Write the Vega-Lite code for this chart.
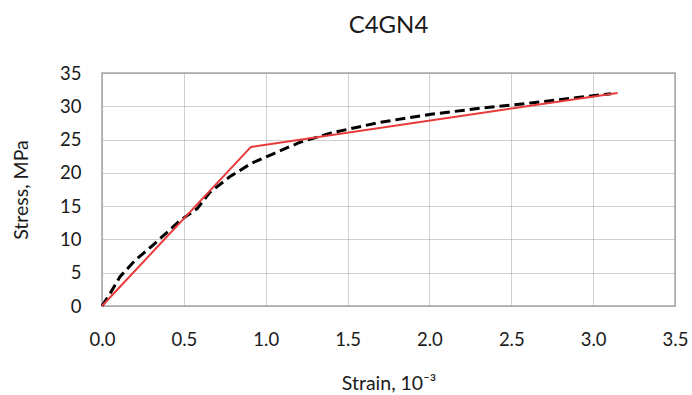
{
  "$schema": "https://vega.github.io/schema/vega-lite/v6.json",
  "width": 573,
  "height": 233,
  "autosize": "none",
  "padding": {"left": 102, "top": 73, "right": 17, "bottom": 89},
  "background": "white",
  "title": {"text": "C4GN4", "font": "Lato", "fontSize": 24, "fontWeight": "normal", "color": "#1a1a1a", "offset": 26, "anchor": "middle"},
  "config": {
    "view": {"stroke": "#a6a6a6", "strokeWidth": 1.5},
    "axis": {
      "labelFont": "Lato", "labelFontSize": 18.5, "labelColor": "#1a1a1a",
      "titleFont": "Lato", "titleFontSize": 19.5, "titleFontWeight": "normal", "titleColor": "#1a1a1a",
      "domain": false, "ticks": false,
      "gridColor": "#a0a0a0", "gridDash": [1, 1], "gridWidth": 1
    }
  },
  "datasets": {
    "measured": [
      {"strain": 0.0, "stress": 0.0},
      {"strain": 0.05, "stress": 1.9},
      {"strain": 0.11, "stress": 4.4},
      {"strain": 0.2, "stress": 6.8},
      {"strain": 0.3, "stress": 8.9},
      {"strain": 0.48, "stress": 12.9},
      {"strain": 0.58, "stress": 14.6},
      {"strain": 0.66, "stress": 17.1},
      {"strain": 0.78, "stress": 19.4},
      {"strain": 0.91, "stress": 21.4},
      {"strain": 1.05, "stress": 22.9},
      {"strain": 1.21, "stress": 24.6},
      {"strain": 1.4, "stress": 26.0},
      {"strain": 1.7, "stress": 27.6},
      {"strain": 2.01, "stress": 28.8},
      {"strain": 2.31, "stress": 29.7},
      {"strain": 2.62, "stress": 30.5},
      {"strain": 2.93, "stress": 31.4},
      {"strain": 3.11, "stress": 31.9}
    ],
    "model": [
      {"strain": 0.0, "stress": 0.0},
      {"strain": 0.91, "stress": 23.9},
      {"strain": 3.15, "stress": 32.0}
    ]
  },
  "encoding": {
    "x": {"field": "strain", "type": "quantitative", "scale": {"domain": [0, 3.5]},
      "axis": {"title": "Strain, 10⁻³", "values": [0, 0.5, 1, 1.5, 2, 2.5, 3, 3.5], "format": ".1f", "labelFlush": false, "labelPadding": 24, "titlePadding": 26}},
    "y": {"field": "stress", "type": "quantitative", "scale": {"domain": [0, 35]},
      "axis": {"title": "Stress, MPa", "values": [0, 5, 10, 15, 20, 25, 30, 35], "labelFlush": false, "labelPadding": 21, "titlePadding": 28}}
  },
  "layer": [
    {
      "data": {"name": "measured"},
      "mark": {"type": "line", "color": "#000000", "strokeWidth": 3, "strokeDash": [10, 5]}
    },
    {
      "data": {"name": "model"},
      "mark": {"type": "line", "color": "#e8393b", "strokeWidth": 2}
    }
  ]
}
